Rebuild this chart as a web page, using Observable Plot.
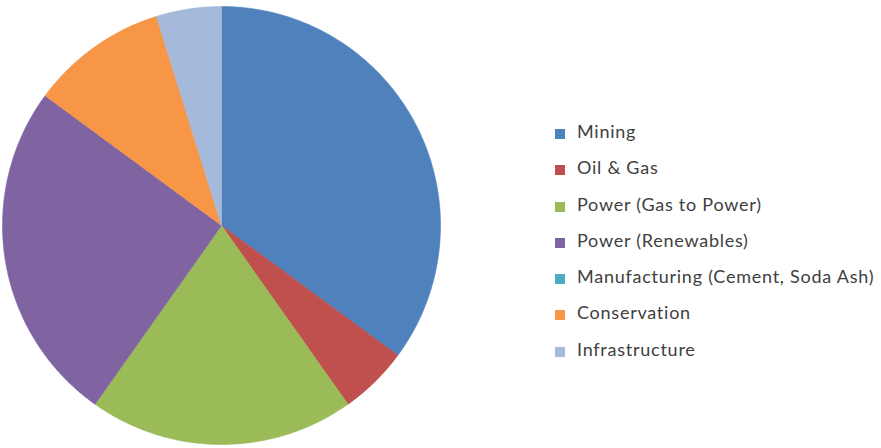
<!DOCTYPE html>
<html>
<head>
<meta charset="utf-8">
<script src="https://cdn.jsdelivr.net/npm/d3@7"></script>
<script src="https://cdn.jsdelivr.net/npm/@observablehq/plot@0.6"></script>
<style>
  html, body { margin: 0; padding: 0; background: #fff; }
  #wrap { position: relative; width: 881px; height: 448px; }
  #legend { position: absolute; left: 555px; top: 119px; font-family: "Lato", "Open Sans", sans-serif; font-size: 18px; letter-spacing: 0.75px; color: #404040; }
  .row { height: 36.3px; display: flex; align-items: flex-start; white-space: nowrap; line-height: 24px; }
  .sw { width: 10px; height: 10px; margin-right: 12px; margin-top: 10px; flex: none; }
</style>
</head>
<body>
<div id="wrap"></div>
<script>
const categories = ["Mining", "Oil & Gas", "Power (Gas to Power)", "Power (Renewables)", "Manufacturing (Cement, Soda Ash)", "Conservation", "Infrastructure"];
const shares = [35.1, 5.1, 19.6, 25.3, 0, 10.1, 4.8];
const colors = ["#4F81BD", "#C0504D", "#9BBB59", "#8064A2", "#4BACC6", "#F79646", "#A5B9DA"];

const total = d3.sum(shares);
const rows = [];
let start = 0;
categories.forEach((c, i) => {
  const v = shares[i];
  if (v <= 0) { return; }
  const a0 = start / total * 2 * Math.PI;
  const a1 = (start + v) / total * 2 * Math.PI;
  start += v;
  rows.push({category: c, x: 0, y: 0});
  const n = Math.max(2, Math.ceil((a1 - a0) / (Math.PI / 360)));
  for (let k = 0; k <= n; k++) {
    const a = a0 + (a1 - a0) * k / n;
    rows.push({category: c, x: Math.sin(a), y: Math.cos(a)});
  }
  rows.push({category: c, x: 0, y: 0});
});

const chart = Plot.plot({
  width: 881,
  height: 448,
  marginLeft: 2,
  marginRight: 441,
  marginTop: 6,
  marginBottom: 4,
  x: {domain: [-1, 1], axis: null},
  y: {domain: [-1, 1], axis: null},
  color: {domain: categories, range: colors},
  marks: [
    Plot.line(rows, {x: "x", y: "y", z: "category", fill: "category", stroke: "category", strokeWidth: 0.6, curve: "linear"})
  ]
});
const wrap = document.getElementById("wrap");
wrap.appendChild(chart);

const legend = document.createElement("div");
legend.id = "legend";
categories.forEach((c, i) => {
  const r = document.createElement("div");
  r.className = "row";
  const s = document.createElement("div");
  s.className = "sw";
  s.style.background = colors[i];
  const t = document.createElement("span");
  t.textContent = c;
  r.appendChild(s); r.appendChild(t);
  legend.appendChild(r);
});
wrap.appendChild(legend);
</script>
</body>
</html>
